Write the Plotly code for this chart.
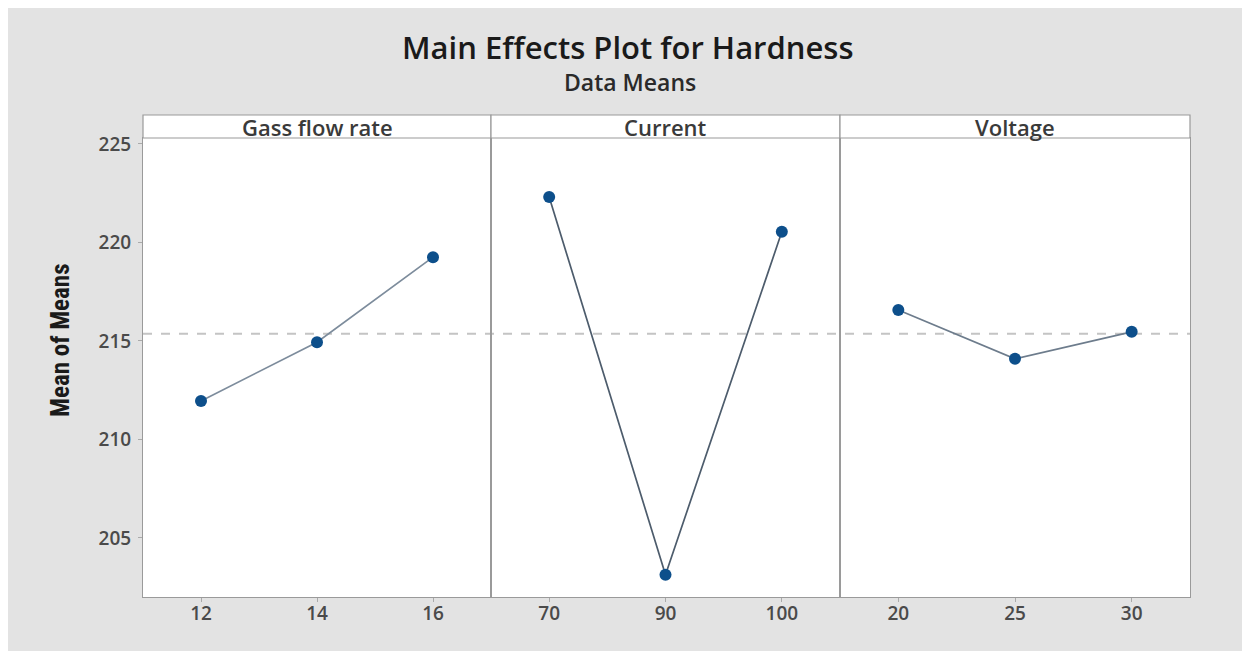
import plotly.graph_objects as go
from plotly.subplots import make_subplots

factors = ["Gass flow rate", "Current", "Voltage"]
gas_levels = ["12", "14", "16"]
gas_means = [211.95, 214.93, 219.25]
current_levels = ["70", "90", "100"]
current_means = [222.3, 203.13, 220.54]
voltage_levels = ["20", "25", "30"]
voltage_means = [216.57, 214.09, 215.46]
y_ticks = [205, 210, 215, 220, 225]

levels = [gas_levels, current_levels, voltage_levels]
means = [gas_means, current_means, voltage_means]
all_vals = gas_means + current_means + voltage_means
grand_mean = sum(all_vals) / len(all_vals)

OFF = 8  # page body offset
W, H = 1250, 651
plot_left, plot_right, plot_top, plot_bottom = 143 - OFF, 1190 - OFF, 115 - OFF, 597 - OFF
ml, mr, mt, mb = plot_left, W - plot_right, plot_top, H - plot_bottom
pw = W - ml - mr
ph = H - mt - mb
panel_px = [143, 491, 840, 1190]


def px(pix):
    return (pix - OFF - ml) / pw


def py(pix):
    return (H - mb - (pix - OFF)) / ph


doms = [(px(panel_px[i]), px(panel_px[i + 1])) for i in range(3)]
strip_bottom = py(138)

fig = make_subplots(rows=1, cols=3, shared_yaxes=True, horizontal_spacing=0)

line_colors = ["#7d8c9c", "#4d5c6c", "#6d7c8c"]
for i in range(3):
    fig.add_trace(go.Scatter(
        x=levels[i], y=means[i], mode="lines+markers",
        line=dict(color=line_colors[i], width=1.7),
        marker=dict(color="#0d4f8b", size=12, symbol="circle"),
        showlegend=False, hoverinfo="x+y"), row=1, col=i + 1)

tickfont = dict(family="Open Sans, DejaVu Sans, sans-serif", size=19, color="#4a4a4a", weight=600)
for i in range(3):
    fig.update_xaxes(type="category", range=[-0.5, 2.5], domain=list(doms[i]),
                     showline=True, mirror=True, linecolor="#9a9a9a", linewidth=1,
                     ticks="outside", ticklen=4, tickcolor="#aaaaaa",
                     ticklabelstandoff=-5,
                     showgrid=False, zeroline=False, tickfont=tickfont,
                     row=1, col=i + 1)
    fig.update_yaxes(range=[202.0, 225.3], domain=[0, strip_bottom],
                     tickvals=y_ticks, showline=True, mirror=True,
                     linecolor="#9a9a9a", linewidth=1,
                     ticks="outside" if i == 0 else "", ticklen=4, tickcolor="#aaaaaa",
                     ticklabelstandoff=3,
                     showgrid=False, zeroline=False, tickfont=tickfont,
                     row=1, col=i + 1)

# reference line at grand mean
fig.add_shape(type="line", xref="paper", yref="y", x0=0, x1=1,
              y0=grand_mean, y1=grand_mean,
              line=dict(color="#c4c4c4", width=2, dash="dash"), layer="below")

# strips
for i in range(3):
    fig.add_shape(type="rect", xref="paper", yref="paper",
                  x0=doms[i][0], x1=doms[i][1], y0=strip_bottom, y1=1,
                  fillcolor="white", line=dict(color="#9a9a9a", width=1.2))
    fig.add_annotation(text=factors[i], xref="paper", yref="paper",
                       x=(doms[i][0] + doms[i][1]) / 2, y=(strip_bottom + 1) / 2,
                       showarrow=False, xanchor="center", yanchor="middle",
                       font=dict(family="Open Sans, DejaVu Sans, sans-serif", size=22,
                                 color="#3a3a3a", weight=600))

fig.add_annotation(text="Main Effects Plot for Hardness", xref="paper", yref="paper",
                   x=px(628), y=py(47), showarrow=False, xanchor="center", yanchor="middle",
                   font=dict(family="Open Sans, DejaVu Sans, sans-serif", size=31, color="#1a1a1a", weight=600))
fig.add_annotation(text="Data Means", xref="paper", yref="paper",
                   x=px(630), y=py(82), showarrow=False, xanchor="center", yanchor="middle",
                   font=dict(family="Open Sans, DejaVu Sans, sans-serif", size=23, color="#2a2a2a", weight=600))
fig.add_annotation(text="Mean of Means", xref="paper", yref="paper",
                   x=px(60), y=py(340), showarrow=False, textangle=-90,
                   xanchor="center", yanchor="middle",
                   font=dict(family="Liberation Sans Narrow, Roboto Condensed, Liberation Sans, sans-serif",
                             size=25, color="#1a1a1a", weight="bold"))

fig.update_layout(width=W, height=H, margin=dict(l=ml, r=mr, t=mt, b=mb),
                  paper_bgcolor="#e3e3e3", plot_bgcolor="white", showlegend=False)

fig.write_html("out.html")
